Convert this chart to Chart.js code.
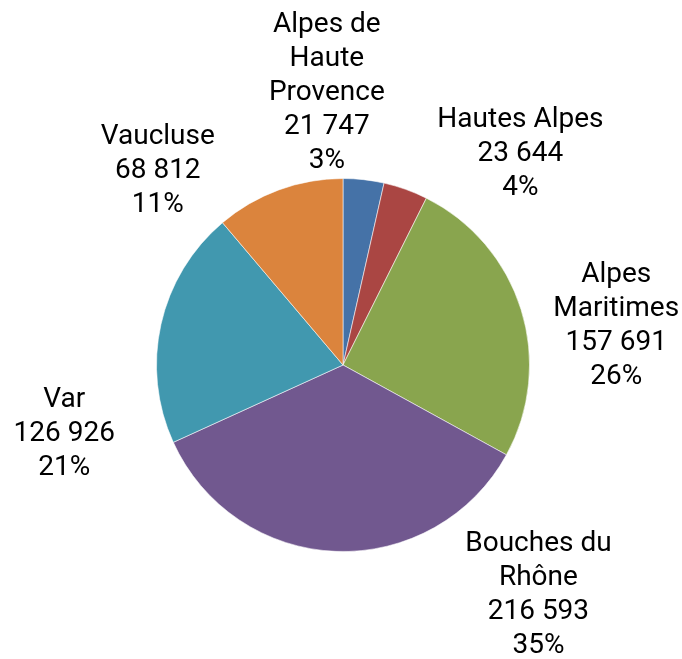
<!DOCTYPE html>
<html>
<head>
<meta charset="utf-8">
<script src="https://cdn.jsdelivr.net/npm/chart.js@4"></script>
<style>
html,body{margin:0;padding:0;background:#fff;}
#wrap{width:682px;height:659px;position:relative;}
</style>
</head>
<body>
<div id="wrap"><canvas id="c" width="682" height="659"></canvas></div>
<script>
const categories = ["Alpes de Haute Provence", "Hautes Alpes", "Alpes Maritimes", "Bouches du Rhône", "Var", "Vaucluse"];
const labelLines = [["Alpes de", "Haute", "Provence"], ["Hautes Alpes"], ["Alpes", "Maritimes"], ["Bouches du", "Rhône"], ["Var"], ["Vaucluse"]];
const values = [21747, 23644, 157691, 216593, 126926, 68812];
const percentLabels = ["3%", "4%", "26%", "35%", "21%", "11%"];
const colors = ["#4572A7", "#AA4643", "#89A54E", "#71588F", "#4198AF", "#DB843D"];
// label placement: [angle from top clockwise (deg), distance as factor of radius]
const labelPlacement = [[-3.4, 1.46], [40.0, 1.48], [81.9, 1.48], [139.7, 1.62], [256.1, 1.54], [-43.6, 1.44]];

function fmt(n){ return String(n).replace(/\B(?=(\d{3})+(?!\d))/g, " "); }

const labelPlugin = {
  id: 'outLabels',
  afterDatasetsDraw(chart){
    const ctx = chart.ctx;
    const meta = chart.getDatasetMeta(0);
    ctx.save();
    ctx.font = '28px Roboto';
    ctx.fillStyle = '#000';
    ctx.textAlign = 'center';
    ctx.textBaseline = 'middle';
    meta.data.forEach((arc, i) => {
      const R = arc.outerRadius;
      const [a, f] = labelPlacement[i];
      const th = a * Math.PI / 180;
      const cx = arc.x + f * R * Math.sin(th);
      const cy = arc.y - f * R * Math.cos(th);
      const lines = labelLines[i].concat([fmt(values[i]), percentLabels[i]]);
      const lh = 34;
      const y0 = cy - (lines.length - 1) * lh / 2;
      lines.forEach((t, k) => ctx.fillText(t, cx, y0 + k * lh));
    });
    ctx.restore();
  }
};

new Chart(document.getElementById('c'), {
  type: 'pie',
  data: {
    labels: categories,
    datasets: [{
      data: values,
      backgroundColor: colors,
      borderColor: 'rgba(255,255,255,0.55)',
      borderWidth: 1
    }]
  },
  options: {
    responsive: false,
    animation: false,
    layout: { padding: { left: 156, right: 152, top: 178, bottom: 107 } },
    plugins: { legend: { display: false }, tooltip: { enabled: false } }
  },
  plugins: [labelPlugin]
});
</script>
</body>
</html>
